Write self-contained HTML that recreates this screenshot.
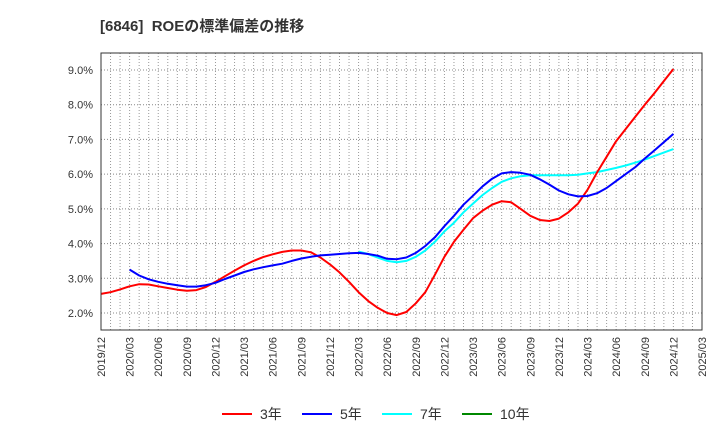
<!DOCTYPE html>
<html><head><meta charset="utf-8"><style>
body{margin:0;background:#fff;font-family:"Liberation Sans","Noto Sans CJK JP",sans-serif}
</style></head><body>
<svg id="chart" width="720" height="440" xmlns="http://www.w3.org/2000/svg" font-family="Liberation Sans, Noto Sans CJK JP, sans-serif">
<text x="100" y="31" font-size="15" font-weight="bold" fill="#333">[6846]&#160; ROEの標準偏差の推移</text>
<g id="grid"></g><g id="axes"></g><g id="series"></g>
<rect x="101" y="53" width="601" height="277" fill="none" stroke="#333" stroke-width="1"/>
<g>
<line x1="222" y1="414" x2="252" y2="414" stroke="#f00" stroke-width="2"/><text x="260" y="419" font-size="14" fill="#333">3年</text>
<line x1="302" y1="414" x2="332" y2="414" stroke="#00f" stroke-width="2"/><text x="340" y="419" font-size="14" fill="#333">5年</text>
<line x1="382" y1="414" x2="412" y2="414" stroke="#0ff" stroke-width="2"/><text x="420" y="419" font-size="14" fill="#333">7年</text>
<line x1="462" y1="414" x2="492" y2="414" stroke="#080" stroke-width="2"/><text x="500" y="419" font-size="14" fill="#333">10年</text>
</g>
</svg>
<script>
const xLabels=["2019/12","2020/03","2020/06","2020/09","2020/12","2021/03","2021/06","2021/09","2021/12","2022/03","2022/06","2022/09","2022/12","2023/03","2023/06","2023/09","2023/12","2024/03","2024/06","2024/09","2024/12","2025/03"];
const yTicks=[2,3,4,5,6,7,8,9];
const s3Start=0;
const s3=[2.55,2.6,2.68,2.77,2.83,2.82,2.77,2.72,2.67,2.64,2.66,2.75,2.9,3.06,3.22,3.37,3.5,3.61,3.69,3.76,3.8,3.8,3.75,3.6,3.4,3.17,2.9,2.6,2.35,2.15,2.0,1.94,2.03,2.28,2.6,3.1,3.62,4.05,4.4,4.73,4.95,5.12,5.22,5.19,5.0,4.8,4.68,4.65,4.72,4.9,5.15,5.55,6.05,6.5,6.95,7.3,7.65,8.0,8.33,8.68,9.03];
const s5Start=3;
const s5=[3.25,3.08,2.97,2.9,2.84,2.8,2.76,2.76,2.8,2.87,2.98,3.08,3.18,3.26,3.32,3.37,3.42,3.5,3.57,3.62,3.66,3.68,3.7,3.72,3.73,3.7,3.65,3.56,3.55,3.6,3.73,3.93,4.18,4.5,4.8,5.12,5.38,5.65,5.87,6.02,6.06,6.04,5.98,5.85,5.7,5.53,5.42,5.36,5.37,5.45,5.6,5.8,6.0,6.2,6.45,6.68,6.92,7.16];
const s7Start=27;
const s7=[3.77,3.7,3.6,3.5,3.46,3.5,3.62,3.8,4.05,4.35,4.6,4.9,5.15,5.4,5.6,5.78,5.88,5.94,5.97,5.97,5.97,5.97,5.97,5.98,6.02,6.06,6.12,6.18,6.25,6.33,6.42,6.52,6.62,6.72];
const NS="http://www.w3.org/2000/svg";
const X0=101,X1=702,Y0=53,Y1=330,months=63;
const xs=m=>X0+(X1-X0)*m/months;
const ys=v=>313-(v-2)*(313-70)/7;
function mk(tag,attrs,parent){const e=document.createElementNS(NS,tag);for(const k in attrs)e.setAttribute(k,attrs[k]);document.getElementById(parent).appendChild(e);return e;}
for(let m=1;m<months;m++){
  const l=mk('line',{x1:xs(m),x2:xs(m),y1:Y0,y2:Y1,stroke:'#999','stroke-dasharray':'1,2','stroke-width':1},'grid');
  
  
}
yTicks.forEach(v=>{
  const l=mk('line',{x1:X0,x2:X1,y1:ys(v),y2:ys(v),stroke:'#888','stroke-dasharray':'1,2','stroke-width':1},'grid');
  
  
  const t=mk('text',{x:93,y:ys(v)+4,'text-anchor':'end','font-size':11,fill:'#333'},'axes');
  
  
  t.textContent=v.toFixed(1)+'%';
});
xLabels.forEach((lab,i)=>{
  const x=xs(i*3);
  const t=mk('text',{x:x+4,y:337,'text-anchor':'end','font-size':11,fill:'#333',transform:`rotate(-90 ${x+4} 337)`},'axes');
  
  
  t.textContent=lab;
});
function line(arr,start,color,name){
  const pts=arr.map((v,i)=>xs(start+i).toFixed(1)+','+ys(v).toFixed(1)).join(' ');
  const p=mk('polyline',{points:pts,fill:'none',stroke:color,'stroke-width':2,'stroke-linejoin':'round'},'series');
  
  
}
line(s7,s7Start,'#0ff','series-7y');
line(s3,s3Start,'#f00','series-3y');
line(s5,s5Start,'#00f','series-5y');
</script>
</body></html>
